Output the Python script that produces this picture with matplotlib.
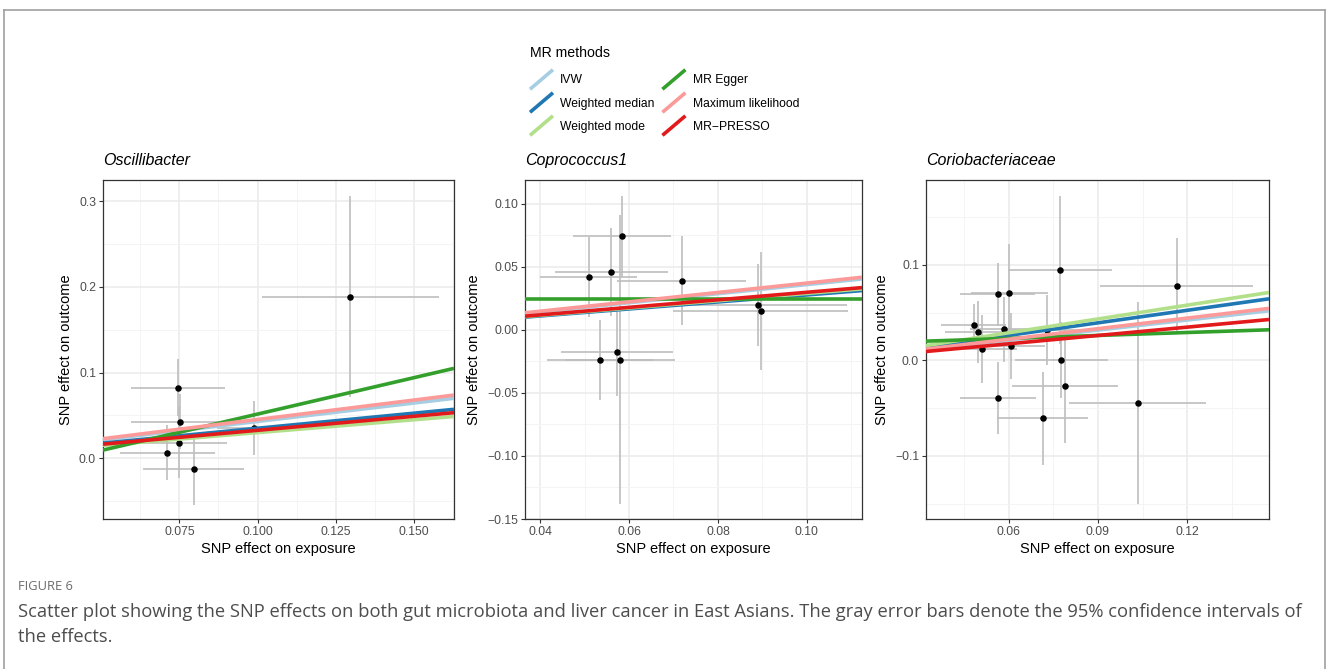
import numpy as np
import matplotlib
matplotlib.use('Agg')
from matplotlib import pyplot as plt
from matplotlib.lines import Line2D
from matplotlib.legend_handler import HandlerBase
from matplotlib.ticker import MultipleLocator

plt.rcParams['font.family'] = ['Liberation Sans', 'DejaVu Sans']

# ---------------- data ----------------
titles = ['Oscillibacter', 'Coprococcus1', 'Coriobacteriaceae']
methods = ['IVW', 'Weighted median', 'Weighted mode', 'MR Egger', 'Maximum likelihood', 'MR\u2212PRESSO']
colors = ['#A6CEE3', '#1F78B4', '#B2DF8A', '#33A02C', '#FB9A99', '#E31A1C']

# panel 1
bx1 = [0.0745, 0.0752, 0.0750, 0.0711, 0.0796, 0.0990, 0.1297]
by1 = [0.0824, 0.0428, 0.0183, 0.0066, -0.0120, 0.0358, 0.1885]
sx1 = [0.0151, 0.0155, 0.0153, 0.0152, 0.0162, 0.0120, 0.0283]
sy1 = [0.0330, 0.0320, 0.0410, 0.0320, 0.0418, 0.0315, 0.1175]
slope1 = [0.430, 0.351, 0.300, 0.849, 0.453, 0.327]
icpt1 = [0, 0, 0, -0.0333, 0, 0]

# panel 2
bx2 = [0.0509, 0.0560, 0.0585, 0.0719, 0.0891, 0.0896, 0.0535, 0.0573, 0.0580]
by2 = [0.0421, 0.0460, 0.0743, 0.0392, 0.0196, 0.0151, -0.0238, -0.0175, -0.0235]
sx2 = [0.0110, 0.0127, 0.0110, 0.0145, 0.0199, 0.0196, 0.0119, 0.0127, 0.0123]
sy2 = [0.0320, 0.0350, 0.0323, 0.0356, 0.0327, 0.0470, 0.0318, 0.0349, 0.1145]
slope2 = [0.360, 0.278, 0.290, 0.0, 0.372, 0.299]
icpt2 = [0, 0, 0, 0.0246, 0, 0]

# panel 3
bx3 = [0.0483, 0.0497, 0.0510, 0.0564, 0.0603, 0.0585, 0.0607, 0.0728, 0.0772,
       0.0777, 0.0790, 0.0565, 0.0714, 0.1034, 0.1164]
by3 = [0.0370, 0.0297, 0.0119, 0.0691, 0.0702, 0.0325, 0.0154, 0.0318, 0.0949,
       0.0007, -0.0262, -0.0398, -0.0607, -0.0447, 0.0785]
sx3 = [0.0110, 0.0110, 0.0117, 0.0126, 0.0128, 0.0115, 0.0117, 0.0120, 0.0175,
       0.0156, 0.0177, 0.0127, 0.0154, 0.0230, 0.0257]
sy3 = [0.0220, 0.0325, 0.0355, 0.0325, 0.0520, 0.0340, 0.0345, 0.0365, 0.0773,
       0.0395, 0.0607, 0.0377, 0.0489, 0.1061, 0.0496]
slope3 = [0.353, 0.438, 0.483, 0.1034, 0.370, 0.291]
icpt3 = [0, 0, 0, 0.0169, 0, 0]

panels = [
    (bx1, by1, sx1, sy1, slope1, icpt1, (0.0506, 0.1628), (-0.0707, 0.3245),
     [0.075, 0.100, 0.125, 0.150], ['0.075', '0.100', '0.125', '0.150'],
     [0.0, 0.1, 0.2, 0.3], ['0.0', '0.1', '0.2', '0.3'], 0.0125, 0.05),
    (bx2, by2, sx2, sy2, slope2, icpt2, (0.0366, 0.1124), (-0.150, 0.119),
     [0.04, 0.06, 0.08, 0.10], ['0.04', '0.06', '0.08', '0.10'],
     [-0.15, -0.10, -0.05, 0.0, 0.05, 0.10], ['\u22120.15', '\u22120.10', '\u22120.05', '0.00', '0.05', '0.10'], 0.01, 0.025),
    (bx3, by3, sx3, sy3, slope3, icpt3, (0.0323, 0.1474), (-0.166, 0.189),
     [0.06, 0.09, 0.12], ['0.06', '0.09', '0.12'],
     [-0.1, 0.0, 0.1], ['\u22120.1', '0.0', '0.1'], 0.015, 0.05),
]

# axes boxes in pixels (left, right)
W, H = 1328, 669
boxes = [(103, 454), (525, 862), (926, 1269)]
top_px, bot_px = 180, 519

fig = plt.figure(figsize=(W / 100, H / 100), dpi=100)

for k, p in enumerate(panels):
    bx, by, sx, sy, slopes, icpts, xl, yl, xt, xtl, yt, ytl, xminor, yminor = p
    l, r = boxes[k]
    ax = fig.add_axes([l / W, (H - bot_px) / H, (r - l) / W, (bot_px - top_px) / H])
    ax.set_xlim(*xl)
    ax.set_ylim(*yl)
    ax.set_xticks(xt)
    ax.set_xticklabels(xtl)
    ax.set_yticks(yt)
    ax.set_yticklabels(ytl)
    ax.xaxis.set_minor_locator(MultipleLocator(xminor))
    ax.yaxis.set_minor_locator(MultipleLocator(yminor))
    ax.grid(which='major', color='#EBEBEB', lw=1.1, zorder=0)
    ax.grid(which='minor', color='#F3F3F3', lw=0.6, zorder=0)
    ax.set_axisbelow(True)
    ax.tick_params(which='major', length=3, width=0.8, color='#333333', labelsize=8.7,
                   labelcolor='#4D4D4D', pad=2)
    ax.tick_params(which='minor', length=0)
    for s in ax.spines.values():
        s.set_color('#333333')
        s.set_linewidth(0.9)

    bx = np.array(bx); by = np.array(by)
    ax.errorbar(bx, by, xerr=sx, yerr=sy, fmt='none', ecolor='#BEBEBE', elinewidth=1.2,
                capsize=0, zorder=2)
    ax.scatter(bx, by, s=22, color='black', zorder=3, linewidths=0)
    for m in range(len(methods)):
        ax.axline((0, icpts[m]), slope=slopes[m], color=colors[m], lw=2.6, zorder=4 + m,
                  solid_capstyle='butt')

    ax.set_xlabel('SNP effect on exposure', fontsize=10.5, labelpad=3)
    ax.set_ylabel('SNP effect on outcome', fontsize=10.5, labelpad=4)
    ax.set_title(titles[k], fontsize=11.5, style='italic', loc='left', pad=11)


class DiagHandler(HandlerBase):
    def create_artists(self, legend, orig_handle, xdescent, ydescent, width, height, fontsize, trans):
        x0, y0 = -xdescent, -ydescent
        ln = Line2D([x0, x0 + width], [y0 - 2, y0 + height + 2], color=orig_handle.get_color(),
                    lw=orig_handle.get_linewidth(), solid_capstyle='butt')
        ln.set_transform(trans)
        return [ln]


handles = [Line2D([], [], color=c, lw=2.6) for c in colors]
leg = fig.legend(handles, methods, ncol=2, loc='upper left',
                 bbox_to_anchor=(530 / W, 1 - 46 / H), frameon=False, fontsize=8.7,
                 title='MR methods', title_fontsize=10.2, alignment='left',
                 handlelength=1.9, handleheight=1.4, handletextpad=0.6,
                 labelspacing=0.75, columnspacing=0.65, borderpad=0, borderaxespad=0,
                 handler_map={Line2D: DiagHandler()})
leg._legend_box.sep = 9

# caption
fig.text(18 / W, 1 - 587 / H, 'FIGURE 6', fontsize=9.3, color='#6B6B6B',
         family=['Open Sans', 'DejaVu Sans'], va='center')
fig.text(18 / W, 1 - 612 / H,
         'Scatter plot showing the SNP effects on both gut microbiota and liver cancer in East Asians. '
         'The gray error bars denote the 95% confidence intervals of',
         fontsize=13.2, color='#4D4D4D', family=['Open Sans', 'DejaVu Sans'], va='center')
fig.text(18 / W, 1 - 637 / H, 'the effects.', fontsize=13.2, color='#4D4D4D',
         family=['Open Sans', 'DejaVu Sans'], va='center')

# outer frame
fig.add_artist(Line2D([4 / W, 1325 / W], [1 - 10 / H, 1 - 10 / H], color='#A0A0A0', lw=1.2,
                      transform=fig.transFigure))
fig.add_artist(Line2D([4 / W, 4 / W], [0, 1 - 10 / H], color='#A0A0A0', lw=1.2,
                      transform=fig.transFigure))
fig.add_artist(Line2D([1325 / W, 1325 / W], [0, 1 - 10 / H], color='#A0A0A0', lw=1.2,
                      transform=fig.transFigure))

fig.savefig('out.png', dpi=100)
